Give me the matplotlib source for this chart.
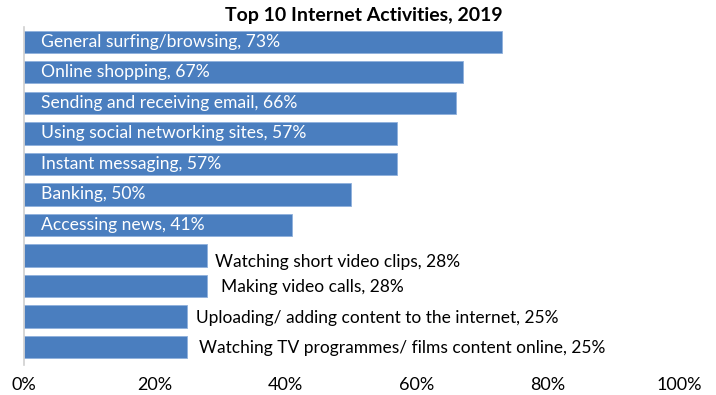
import matplotlib
matplotlib.use('Agg')
import matplotlib.pyplot as plt
from matplotlib.ticker import PercentFormatter

plt.rcParams['font.family'] = ['Lato', 'DejaVu Sans']

activities = ['General surfing/browsing', 'Online shopping', 'Sending and receiving email',
              'Using social networking sites', 'Instant messaging', 'Banking', 'Accessing news',
              'Watching short video clips', 'Making video calls',
              'Uploading/ adding content to the internet',
              'Watching TV programmes/ films content online']
share = [73, 67, 66, 57, 57, 50, 41, 28, 28, 25, 25]

# labels on short bars sit outside, nudged a little (points)
outside_offset = {7: (6, -5), 8: (10, -1), 9: (6, -1), 10: (8, -1)}

fig = plt.figure(figsize=(7.16, 3.95), dpi=100)
ax = fig.add_axes([0.033, 0.076, 0.915, 0.856])

y = list(range(len(share)))
ax.barh(y, share, height=0.73, color='#4a7ebf', edgecolor='#8fb0dc', linewidth=0.6)
ax.set_ylim(10.59, -0.49)
ax.set_xlim(0, 100)

for i, (name, v) in enumerate(zip(activities, share)):
    txt = '{}, {}%'.format(name, v)
    if i in outside_offset:
        ax.annotate(txt, (v, i), xytext=outside_offset[i], textcoords='offset points',
                    ha='left', va='center', fontsize=12.5, color='black')
    else:
        ax.text(2.6, i, txt, ha='left', va='center', fontsize=12.6, color='white')

ax.xaxis.set_major_formatter(PercentFormatter(decimals=0))
ax.set_xticks([0, 20, 40, 60, 80, 100])
ax.tick_params(axis='x', length=0, pad=9, labelsize=13)
ax.set_yticks([])
for s in ['top', 'right', 'bottom']:
    ax.spines[s].set_visible(False)
ax.spines['left'].set_color('#d0d0d0')
ax.spines['left'].set_linewidth(1.2)

ax.set_title('Top 10 Internet Activities, 2019', fontsize=14, fontweight='bold', pad=4, x=0.52)

fig.savefig('out.png', dpi=100)
